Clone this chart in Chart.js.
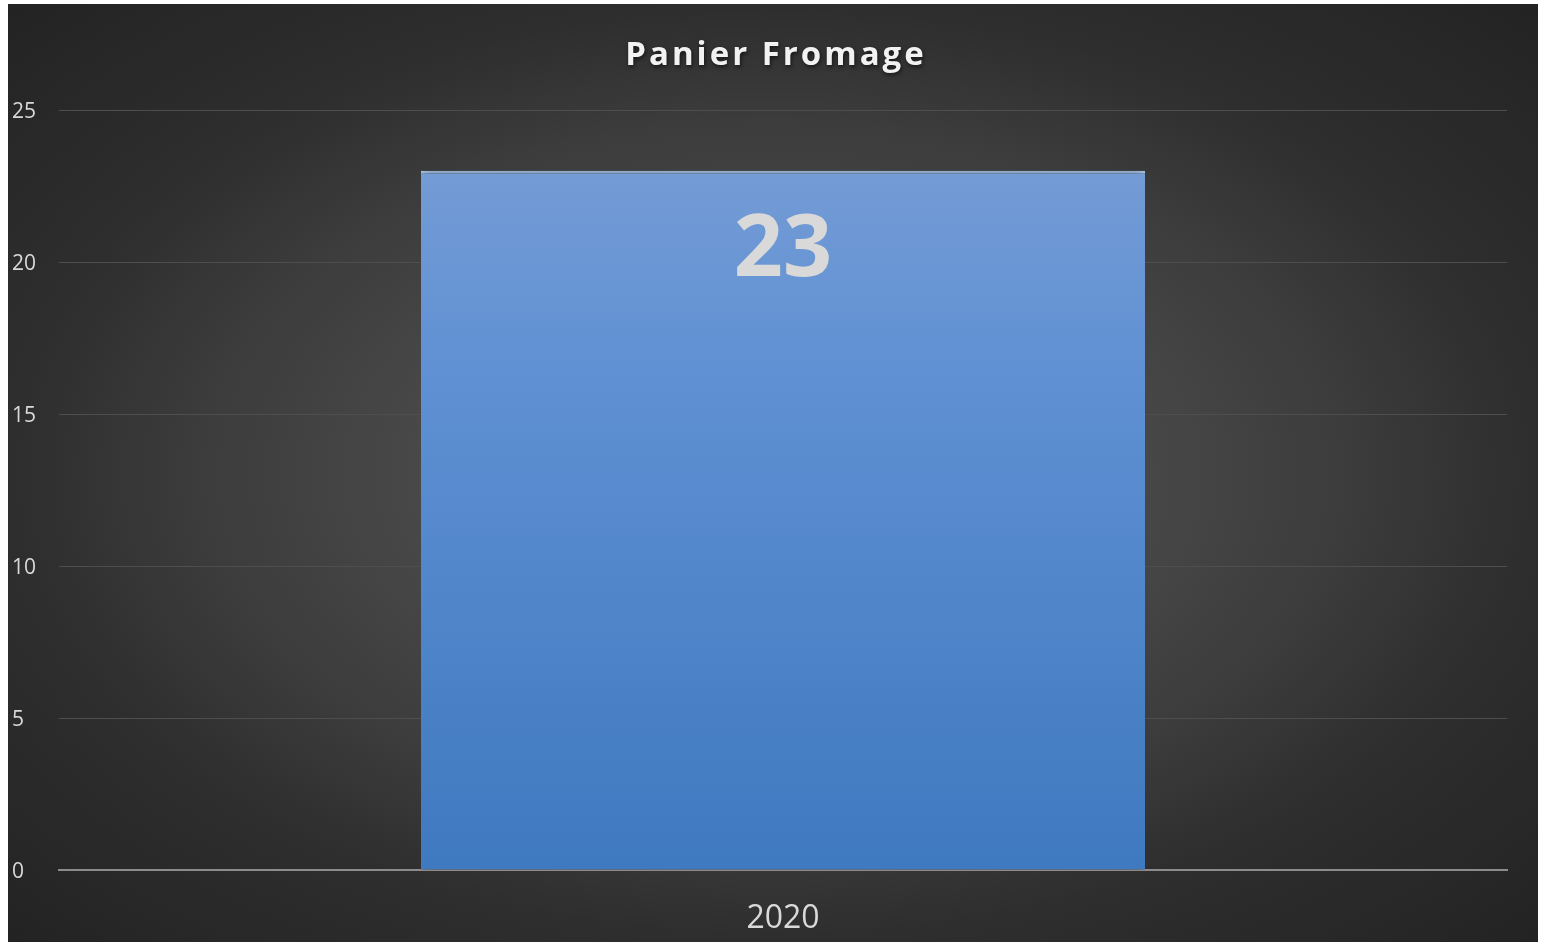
<!DOCTYPE html>
<html>
<head>
<meta charset="utf-8">
<script src="https://cdn.jsdelivr.net/npm/chart.js@4"></script>
<style>
  body { margin: 0; background: #ffffff; }
  #frame {
    position: absolute; left: 8px; top: 4px; width: 1530px; height: 938px;
    background: radial-gradient(ellipse at 50% 50%, #4c4c4c 0%, #4a4a4a 30%, #3c3c3c 53%, #2e2e2e 70%, #232323 100%);
  }
  canvas { display: block; }
</style>
</head>
<body>
<div id="frame"><canvas id="chart" width="1530" height="938"></canvas></div>
<script>
// Chart data
const chartTitle = 'Panier Fromage';
const categories = ['2020'];
const values = [23];
const yTicks = [0, 5, 10, 15, 20, 25];

// Title drawn by hand so it can have letter spacing and a soft shadow
const titlePlugin = {
    id: 'titleText',
    afterDraw(chart) {
        const ctx = chart.ctx;
        ctx.save();
        ctx.font = 'bold 33px "Open Sans"';
        ctx.letterSpacing = '3px';
        ctx.fillStyle = '#f2f2f2';
        ctx.textAlign = 'center';
        ctx.textBaseline = 'middle';
        ctx.shadowColor = 'rgba(0,0,0,0.6)';
        ctx.shadowBlur = 4;
        ctx.shadowOffsetX = 1;
        ctx.shadowOffsetY = 2;
        ctx.fillText(chartTitle, chart.width / 2 + 3, 52);
        ctx.restore();
    }
};

// Big value label inside the top of the bar
const valueLabelPlugin = {
    id: 'valueLabel',
    afterDatasetsDraw(chart) {
        const ctx = chart.ctx;
        const meta = chart.getDatasetMeta(0);
        ctx.save();
        ctx.font = 'bold 86px "Open Sans"';
        ctx.fillStyle = '#d9d9d9';
        ctx.textAlign = 'center';
        ctx.textBaseline = 'middle';
        meta.data.forEach((bar, i) => {
            ctx.fillText(values[i], bar.x, bar.y + 81);
        });
        ctx.restore();
    }
};

// Shadow around the bars
const barShadowPlugin = {
    id: 'barShadow',
    beforeDatasetsDraw(chart) {
        const ctx = chart.ctx;
        ctx.save();
        ctx.shadowColor = 'rgba(0,0,0,0.8)';
        ctx.shadowBlur = 12;
        ctx.shadowOffsetX = 0;
        ctx.shadowOffsetY = 2;
    },
    afterDatasetsDraw(chart) {
        chart.ctx.restore();
    }
};

function barGradient(context) {
    const area = context.chart.chartArea;
    if (!area) return '#5b8cd0';
    const g = context.chart.ctx.createLinearGradient(0, area.top, 0, area.bottom);
    g.addColorStop(0, '#7a9fd6');
    g.addColorStop(0.35, '#5f90d3');
    g.addColorStop(1, '#3f79bf');
    return g;
}

const ctx = document.getElementById('chart').getContext('2d');
new Chart(ctx, {
    type: 'bar',
    data: {
        labels: categories,
        datasets: [{
            data: values,
            backgroundColor: barGradient,
            borderColor: '#b4d4fa',
            borderWidth: { top: 3, left: 0, right: 0, bottom: 0 },
            borderSkipped: false,
            barPercentage: 0.5,
            categoryPercentage: 1.0
        }]
    },
    options: {
        responsive: false,
        animation: false,
        layout: { padding: { top: 106, left: 4, right: 31, bottom: 0 } },
        plugins: {
            legend: { display: false },
            tooltip: { enabled: false }
        },
        scales: {
            x: {
                grid: { display: false, drawTicks: false },
                border: { display: true, color: '#8c8c8c', width: 2 },
                ticks: {
                    color: '#d9d9d9',
                    font: { family: '"Open Sans"', size: 32 },
                    padding: 30
                },
                afterFit(scale) { scale.height = 72; }
            },
            y: {
                min: 0,
                max: 25,
                afterBuildTicks(scale) {
                    scale.ticks = yTicks.map(v => ({ value: v }));
                },
                grid: {
                    color: ctx => ctx.tick && ctx.tick.value === 0 ? 'rgba(0,0,0,0)' : '#4e4e4e',
                    lineWidth: 1,
                    drawTicks: false
                },
                border: { display: false },
                ticks: {
                    color: '#d9d9d9',
                    font: { family: '"Open Sans"', size: 21 },
                    crossAlign: 'far',
                    padding: 0,
                    labelOffset: 2
                },
                afterFit(scale) { scale.width = 47; }
            }
        }
    },
    plugins: [barShadowPlugin, valueLabelPlugin, titlePlugin]
});
</script>
</body>
</html>
